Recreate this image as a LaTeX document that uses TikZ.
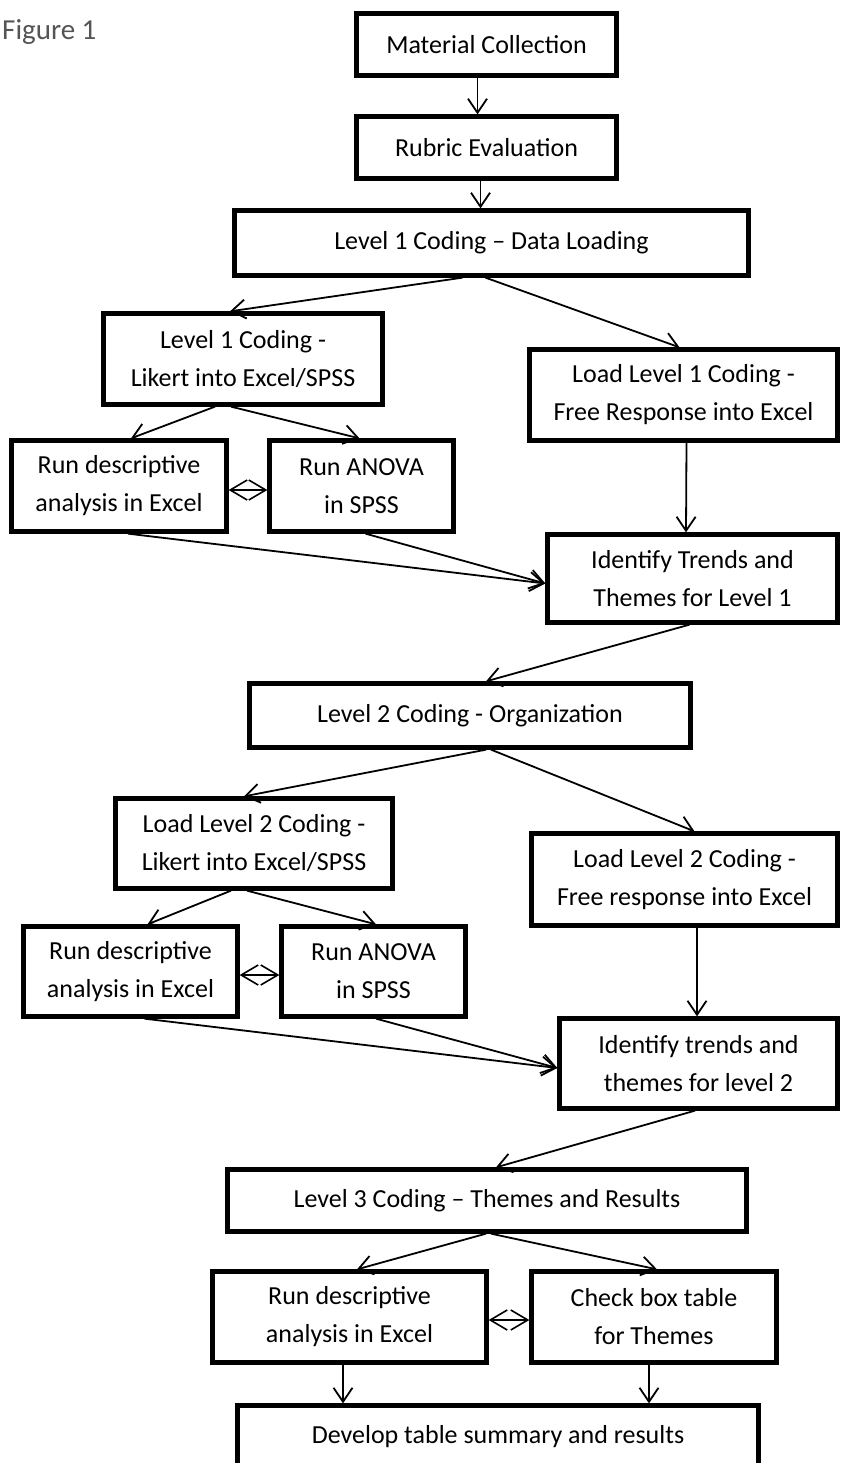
\documentclass[tikz,border=0pt]{standalone}
\usepackage{fontspec}
\setmainfont{Carlito}
\usetikzlibrary{arrows.meta}
\definecolor{figgray}{HTML}{555555}
\tikzset{
  box/.style={draw=black, line width=4.3pt, inner sep=0pt, align=center,
    font=\fontsize{26}{38}\selectfont},
  arr/.style={line width=1.8pt, -{Straight Barb[length=14pt,width=19pt,line width=1.8pt]}},
  darr/.style={line width=1.6pt, {Straight Barb[length=17pt,width=20pt,line width=1.6pt]}-{Straight Barb[length=17pt,width=20pt,line width=1.6pt]}},
}
\begin{document}
\begin{tikzpicture}[x=1pt,y=-1pt]
\clip (0,0) rectangle (841,1463);
\useasboundingbox (0,0) rectangle (841,1463);
\fill[white] (0,0) rectangle (841,1463);

\node[anchor=base west, text=figgray, font=\fontsize{29}{34}\selectfont, inner sep=0pt] (fig) at (2,40) {Figure 1};

\node[box, minimum width=260pt, minimum height=62pt] (mc) at (486.5,44.5) {Material Collection};
\node[box, minimum width=260pt, minimum height=62pt] (re) at (486.5,147.5) {Rubric Evaluation};
\node[box, minimum width=514pt, minimum height=65pt] (l1) at (491.5,243) {Level 1 Coding -- Data Loading};
\node[box, minimum width=279pt, minimum height=91pt] (lik1) at (243,359) {Level 1 Coding -\\Likert into Excel/SPSS};
\node[box, minimum width=308pt, minimum height=91pt] (free1) at (683.5,395) {Load Level 1 Coding -\\Free Response into Excel};
\node[box, minimum width=215pt, minimum height=91pt] (d1) at (119,486) {Run descriptive\\analysis in Excel};
\node[box, minimum width=184pt, minimum height=91pt] (a1) at (361.5,486) {Run ANOVA\\in SPSS};
\node[box, minimum width=290pt, minimum height=88pt] (id1) at (692.5,578.5) {Identify Trends and\\Themes for Level 1};
\node[box, minimum width=441pt, minimum height=64pt] (l2) at (470,715.5) {Level 2 Coding - Organization};
\node[box, minimum width=277pt, minimum height=90pt] (lik2) at (254,843.5) {Load Level 2 Coding -\\Likert into Excel/SPSS};
\node[box, minimum width=306pt, minimum height=92pt] (free2) at (684.5,879.5) {Load Level 2 Coding -\\Free response into Excel};
\node[box, minimum width=214pt, minimum height=90pt] (d2) at (130.5,971.5) {Run descriptive\\analysis in Excel};
\node[box, minimum width=184pt, minimum height=90pt] (a2) at (373.5,971.5) {Run ANOVA\\in SPSS};
\node[box, minimum width=278pt, minimum height=90pt] (id2) at (698.5,1063.5) {Identify trends and\\themes for level 2};
\node[box, minimum width=519pt, minimum height=62pt] (l3) at (487,1200.5) {Level 3 Coding -- Themes and Results};
\node[box, minimum width=274pt, minimum height=91pt] (d3) at (349.5,1317) {Run descriptive\\analysis in Excel};
\node[box, minimum width=245pt, minimum height=91pt] (cb) at (654,1317) {Check box table\\for Themes};
\node[box, minimum width=521pt, minimum height=62pt] (dev) at (498,1436.5) {Develop table summary and results};

\draw[arr] ([xshift=-9pt]mc.south) -- ([xshift=-9pt]re.north);
\draw[arr] ([xshift=-6pt]re.south) -- ([xshift=-11pt]l1.north);
\draw[arr] ([xshift=-29pt]l1.south) -- ([xshift=-13pt]lik1.north);
\draw[arr] ([xshift=-6pt]l1.south) -- ([xshift=-4pt]free1.north);
\draw[arr] ([xshift=-28pt]lik1.south) -- ([xshift=12pt]d1.north);
\draw[arr] ([xshift=-12pt]lik1.south) -- ([xshift=-2pt]a1.north);
\draw[arr] ([xshift=3pt]free1.south) -- ([xshift=-6.5pt]id1.north);
\draw[arr] ([xshift=9pt]d1.south) -- ([yshift=-5pt]id1.west);
\draw[arr] ([xshift=4pt]a1.south) -- ([yshift=-5pt]id1.west);
\draw[darr] ([yshift=-4pt]d1.east) -- ([yshift=-4pt]a1.west);
\draw[arr] ([xshift=-3pt]id1.south) -- ([xshift=16pt]l2.north);
\draw[arr] ([xshift=16pt]l2.south) -- ([xshift=-10pt]lik2.north);
\draw[arr] ([xshift=21pt]l2.south) -- ([xshift=10pt]free2.north);
\draw[arr] ([xshift=-23pt]lik2.south) -- ([xshift=17pt]d2.north);
\draw[arr] ([xshift=-7pt]lik2.south) -- ([xshift=2.5pt]a2.north);
\draw[arr] ([xshift=12.5pt]free2.south) -- ([xshift=-1.5pt]id2.north);
\draw[arr] ([xshift=14pt]d2.south) -- ([yshift=-4.5pt]id2.west);
\draw[arr] ([xshift=2.5pt]a2.south) -- ([yshift=-4.5pt]id2.west);
\draw[darr] ([yshift=-3.5pt]d2.east) -- ([yshift=-3.5pt]a2.west);
\draw[arr] ([xshift=-3.5pt]id2.south) -- ([xshift=9pt]l3.north);
\draw[arr] ([xshift=-1pt]l3.south) -- ([xshift=7.5pt]d3.north);
\draw[arr] ([xshift=4pt]l3.south) -- ([xshift=3pt]cb.north);
\draw[darr] ([yshift=-3pt]d3.east) -- ([yshift=-3pt]cb.west);
\draw[arr] ([xshift=-6.5pt]d3.south) -- ([xshift=-155pt]dev.north);
\draw[arr] ([xshift=-5pt]cb.south) -- ([xshift=151pt]dev.north);
\end{tikzpicture}
\end{document}
